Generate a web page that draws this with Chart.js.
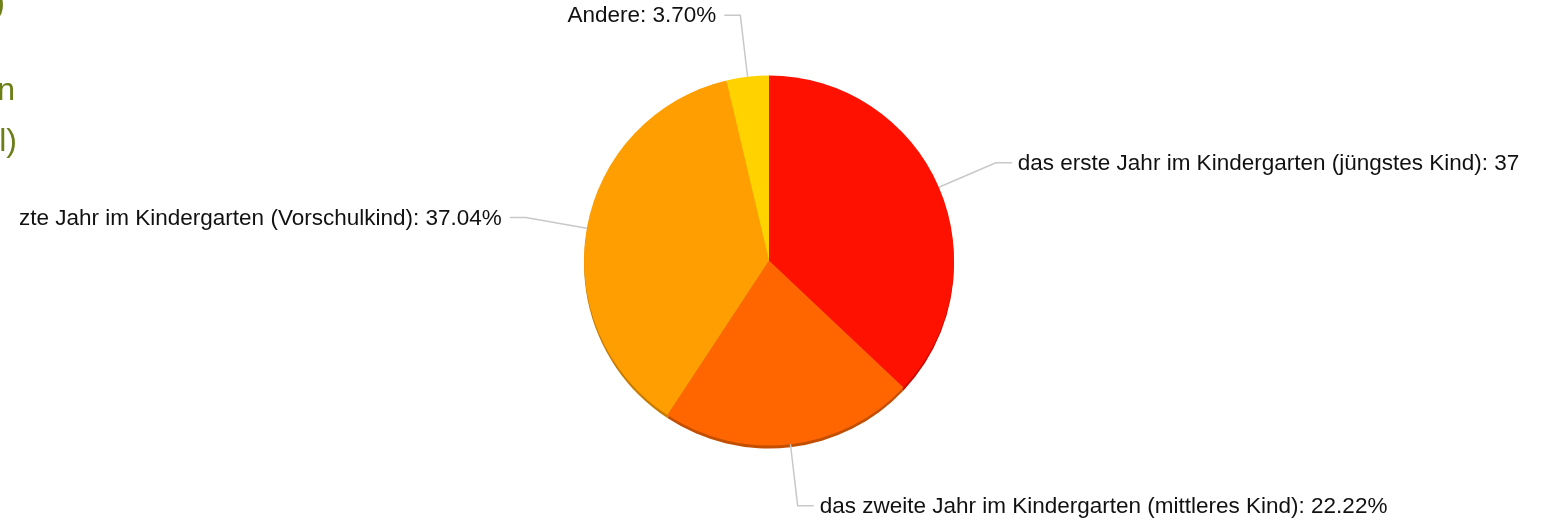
<!DOCTYPE html>
<html lang="de">
<head>
<meta charset="utf-8">
<title>Kindergarten</title>
<script src="https://cdn.jsdelivr.net/npm/chart.js@4.4.1/dist/chart.umd.min.js"></script>
<style>
  html, body { margin: 0; padding: 0; background: #fff; overflow: hidden; }
  #wrap { position: relative; width: 1541px; height: 521px; }
  #pieChart { position: absolute; left: 0; top: 0; }
  .side { position: absolute; left: -200px; width: 205px; text-align: right;
          font-family: "Liberation Sans", Arial, sans-serif; font-size: 32px;
          line-height: 32px; color: #6c7f17; white-space: nowrap; }
</style>
</head>
<body>
<div id="wrap">
  <canvas id="pieChart" width="1541" height="521"></canvas>
  <div class="side" style="top:-14px; width:205px;">)</div>
  <div class="side" style="top:73px; width:215px;">n</div>
  <div class="side" style="top:124px; width:217px;">l)</div>
</div>
<script>
const labels = [
  'das erste Jahr im Kindergarten (jüngstes Kind)',
  'das zweite Jahr im Kindergarten (mittleres Kind)',
  'das letzte Jahr im Kindergarten (Vorschulkind)',
  'Andere'
];
const percents = [37.04, 22.22, 37.04, 3.70];
const colors = ['#ff1100', '#ff6600', '#ff9e00', '#ffd200'];
const rimColors = ['#c40d00', '#c24e00', '#c77b00', '#c9a500'];

// dunkler Rand unten (Schatten)
const rimPlugin = {
  id: 'rim',
  beforeDatasetsDraw(chart) {
    const ctx = chart.ctx;
    chart.getDatasetMeta(0).data.forEach((arc, i) => {
      ctx.save();
      ctx.beginPath();
      ctx.moveTo(arc.x, arc.y + 3);
      ctx.arc(arc.x, arc.y + 3, arc.outerRadius, arc.startAngle, arc.endAngle);
      ctx.closePath();
      ctx.fillStyle = rimColors[i];
      ctx.fill();
      ctx.restore();
    });
  }
};

// Beschriftungen mit Linien
const calloutPlugin = {
  id: 'callouts',
  afterDatasetsDraw(chart) {
    const ctx = chart.ctx;
    ctx.save();
    ctx.beginPath();
    ctx.rect(20, 0, 1501, chart.height);
    ctx.clip();
    ctx.font = '22.5px "Liberation Sans", Arial, sans-serif';
    ctx.textBaseline = 'middle';
    chart.getDatasetMeta(0).data.forEach((arc, i) => {
      const mid = (arc.startAngle + arc.endAngle) / 2;
      const cos = Math.cos(mid), sin = Math.sin(mid);
      const r = arc.outerRadius;
      const x1 = arc.x + cos * r, y1 = arc.y + sin * r;
      const x2 = arc.x + cos * (r + 62), y2 = arc.y + sin * (r + 62);
      const dir = cos >= 0 ? 1 : -1;
      const x3 = x2 + dir * 16;
      ctx.beginPath();
      ctx.moveTo(x1, y1);
      ctx.lineTo(x2, y2);
      ctx.lineTo(x3, y2);
      ctx.strokeStyle = '#c8c8c8';
      ctx.lineWidth = 1.5;
      ctx.stroke();
      ctx.fillStyle = '#111';
      ctx.textAlign = dir > 0 ? 'left' : 'right';
      ctx.fillText(labels[i] + ': ' + percents[i].toFixed(2) + '%', x3 + dir * (dir > 0 ? 6 : 8), y2 + 1);
    });
    ctx.restore();
  }
};

new Chart(document.getElementById('pieChart'), {
  type: 'pie',
  data: {
    labels: labels,
    datasets: [{
      data: percents,
      backgroundColor: colors,
      borderWidth: 0
    }]
  },
  options: {
    responsive: false,
    animation: false,
    radius: 185,
    layout: { padding: { right: 3 } },
    plugins: {
      legend: { display: false },
      tooltip: { enabled: false }
    }
  },
  plugins: [rimPlugin, calloutPlugin]
});
</script>
</body>
</html>
